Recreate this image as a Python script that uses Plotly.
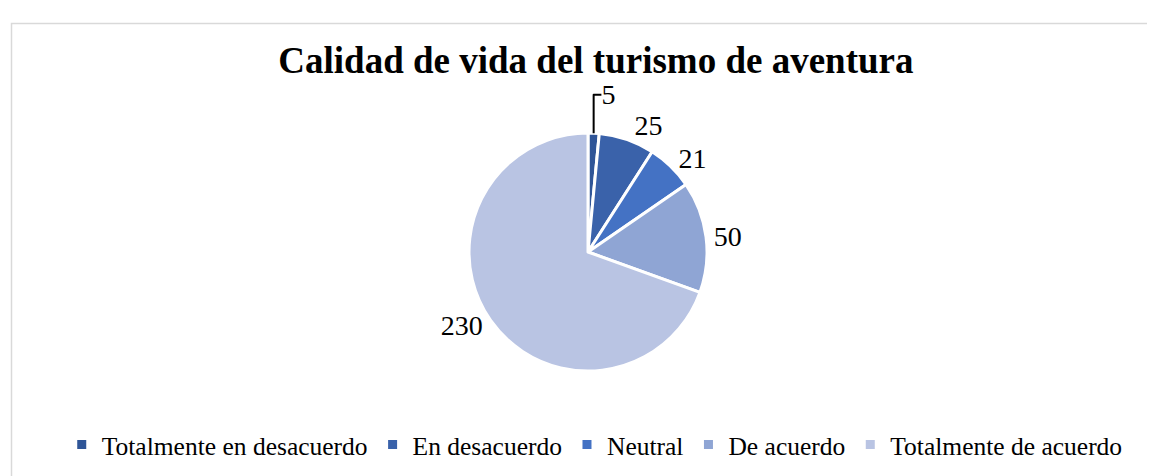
import plotly.graph_objects as go

categories = ["Totalmente en desacuerdo", "En desacuerdo", "Neutral", "De acuerdo", "Totalmente de acuerdo"]
values = [5, 25, 21, 50, 230]
colors = ["#2F5597", "#3A62AA", "#4472C4", "#8FA5D4", "#B9C4E3"]

W, H = 1155, 476
cx, cy = 580 / W, 1 - 244 / H
hw, hh = 0.2, 0.25

fig = go.Figure(go.Pie(
    labels=categories,
    values=values,
    sort=False,
    direction="clockwise",
    rotation=0,
    marker=dict(colors=colors, line=dict(color="white", width=3)),
    textinfo="value",
    textposition="outside",
    textfont=dict(family="Liberation Serif", size=28, color="#000000"),
    domain=dict(x=[cx - hw, cx + hw], y=[cy - hh, cy + hh]),
    hoverinfo="label+value",
))

fig.update_layout(
    width=W, height=H,
    margin=dict(l=0, r=0, t=0, b=0),
    paper_bgcolor="white",
    title=dict(text="<b>Calidad de vida del turismo de aventura</b>",
               x=0.509, xanchor="center", y=1 - 52 / H, yanchor="middle",
               font=dict(family="Liberation Serif", size=37, color="#000000")),
    legend=dict(orientation="h", x=0.508, xanchor="center", y=1 - 437 / H, yanchor="middle",
                font=dict(family="Liberation Serif", size=25.5, color="#000000"),
                itemwidth=30, tracegroupgap=0),
    shapes=[dict(type="rect", xref="paper", yref="paper",
                 x0=3.5 / W, x1=1.01, y0=-0.01, y1=1 - 15.5 / H,
                 line=dict(color="#D9D9D9", width=1.5), fillcolor="rgba(0,0,0,0)")],
)

fig.write_html("out.html")
